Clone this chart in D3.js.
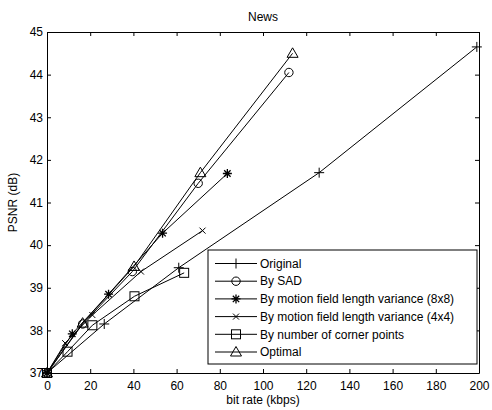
<!DOCTYPE html>
<html>
<head>
<meta charset="utf-8">
<script src="https://cdn.jsdelivr.net/npm/d3@7"></script>
<style>
  html, body { margin: 0; padding: 0; background: #fff; }
  svg { display: block; font-family: "Liberation Sans", Arial, sans-serif; }
</style>
</head>
<body>
<svg id="chart" width="492" height="410"></svg>
<script>
// Rate–distortion curves for the "News" sequence: [bit rate (kbps), PSNR (dB)]
const original   = [[0, 37], [26.5, 38.15], [61, 39.47], [126, 41.7], [199, 44.65]];
const bySAD      = [[0, 37], [16.5, 38.15], [39.5, 39.38], [70, 41.45], [112, 44.05]];
const byMF8x8    = [[0, 37], [11.7, 37.92], [28.5, 38.85], [53.5, 40.28], [83.5, 41.68]];
const byMF4x4    = [[0, 37], [8.4, 37.7], [21, 38.36], [43.5, 39.38], [72, 40.34]];
const byCorner   = [[0, 37], [9.5, 37.5], [21, 38.12], [40.5, 38.8], [63.5, 39.35]];
const optimal    = [[0, 37], [16.5, 38.17], [40.3, 39.5], [71, 41.7], [113.7, 44.5]];

const seriesNames = [
  "Original",
  "By SAD",
  "By motion field length variance (8x8)",
  "By motion field length variance (4x4)",
  "By number of corner points",
  "Optimal"
];
const seriesMarkers = ["plus", "circle", "star", "cross", "square", "triangle"];
const seriesData = [original, bySAD, byMF8x8, byMF4x4, byCorner, optimal];

const xTicks = [0, 20, 40, 60, 80, 100, 120, 140, 160, 180, 200];
const yTicks = [37, 38, 39, 40, 41, 42, 43, 44, 45];

const titleText = "News";
const xLabel = "bit rate (kbps)";
const yLabel = "PSNR (dB)";

// Layout
const plot = { left: 47, right: 479, top: 32, bottom: 373 };
const svg = d3.select("#chart");

const x = d3.scaleLinear().domain([0, 200]).range([plot.left, plot.right]);
const y = d3.scaleLinear().domain([37, 45]).range([plot.bottom, plot.top]);

const tickLen = 4;

// Axes: ticks point inward on all four sides
const gBottom = svg.append("g").attr("transform", `translate(0,${plot.bottom})`)
  .call(d3.axisBottom(x).tickValues(xTicks).tickSizeInner(-tickLen).tickSizeOuter(0).tickPadding(8));
const gTop = svg.append("g").attr("transform", `translate(0,${plot.top})`)
  .call(d3.axisTop(x).tickValues(xTicks).tickSizeInner(-tickLen).tickSizeOuter(0).tickFormat(""));
const gLeft = svg.append("g").attr("transform", `translate(${plot.left},0)`)
  .call(d3.axisLeft(y).tickValues(yTicks).tickSizeInner(-tickLen).tickSizeOuter(0).tickPadding(4));
const gRight = svg.append("g").attr("transform", `translate(${plot.right},0)`)
  .call(d3.axisRight(y).tickValues(yTicks).tickSizeInner(-tickLen).tickSizeOuter(0).tickFormat(""));

[gBottom, gTop, gLeft, gRight].forEach(g => {
  g.selectAll(".domain").attr("stroke", "#000").attr("stroke-width", 1);
  g.selectAll(".tick line").attr("stroke", "#000");
  g.selectAll("text").attr("font-size", 12).attr("fill", "#000")
    .attr("font-family", "Liberation Sans, Arial, sans-serif");
});
gBottom.selectAll(".tick text").attr("dy", "0.71em");

// Marker shapes
function drawMarker(g, type, cx, cy) {
  const s = g.append("g").attr("transform", `translate(${cx},${cy})`)
    .attr("fill", "none").attr("stroke", "#000").attr("stroke-width", 1);
  switch (type) {
    case "plus":
      s.append("path").attr("d", "M-5,0H5M0,-5V5");
      break;
    case "circle":
      s.append("circle").attr("r", 4.2);
      break;
    case "star":
      s.append("path").attr("d", "M-4.5,0H4.5M0,-4.5V4.5M-3.2,-3.2L3.2,3.2M-3.2,3.2L3.2,-3.2").attr("stroke-width", 1.3);
      break;
    case "cross":
      s.append("path").attr("d", "M-3,-3L3,3M-3,3L3,-3");
      break;
    case "square":
      s.append("rect").attr("x", -4.5).attr("y", -4.5).attr("width", 9).attr("height", 9);
      break;
    case "triangle":
      s.append("path").attr("d", "M0,-5.5L5.5,4L-5.5,4Z");
      break;
  }
}

const line = d3.line().x(d => x(d[0])).y(d => y(d[1]));

const gData = svg.append("g");
seriesData.forEach((data, i) => {
  gData.append("path").datum(data).attr("d", line)
    .attr("fill", "none").attr("stroke", "#000").attr("stroke-width", 1);
  data.forEach(d => drawMarker(gData, seriesMarkers[i], x(d[0]), y(d[1])));
});

// Title and axis labels
svg.append("text").attr("x", (plot.left + plot.right) / 2).attr("y", 21)
  .attr("text-anchor", "middle").attr("font-size", 12).text(titleText);
svg.append("text").attr("x", (plot.left + plot.right) / 2).attr("y", 404)
  .attr("text-anchor", "middle").attr("font-size", 12).text(xLabel);
svg.append("text").attr("transform", `translate(17,${(plot.top + plot.bottom) / 2}) rotate(-90)`)
  .attr("text-anchor", "middle").attr("font-size", 12).text(yLabel);

// Legend
const legend = { x: 208, y: 250, w: 269, h: 114, rowH: 17.7, first: 263.5 };
const gLeg = svg.append("g");
gLeg.append("rect").attr("x", legend.x).attr("y", legend.y)
  .attr("width", legend.w).attr("height", legend.h)
  .attr("fill", "#fff").attr("stroke", "#000").attr("stroke-width", 1);
seriesNames.forEach((name, i) => {
  const cy = legend.first + i * legend.rowH;
  gLeg.append("line").attr("x1", 215).attr("x2", 257).attr("y1", cy).attr("y2", cy)
    .attr("stroke", "#000").attr("stroke-width", 1);
  drawMarker(gLeg, seriesMarkers[i], 236, cy);
  gLeg.append("text").attr("x", 260).attr("y", cy).attr("dy", "0.35em")
    .attr("font-size", 12).text(name);
});
</script>
</body>
</html>
